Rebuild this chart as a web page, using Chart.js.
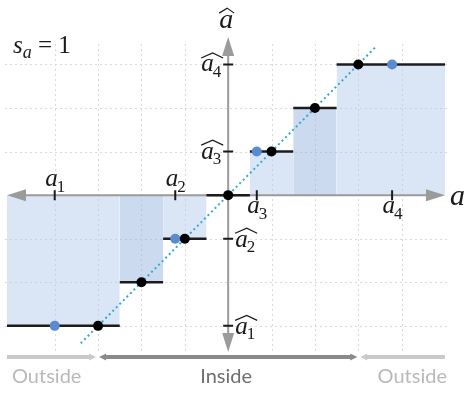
<!DOCTYPE html>
<html>
<head>
<meta charset="utf-8">
<script src="https://cdn.jsdelivr.net/npm/chart.js@4"></script>
<style>
  html, body { margin: 0; padding: 0; background: #fff; }
  #wrap { width: 467px; height: 394px; }
</style>
</head>
<body>
<div id="wrap"><canvas id="chart"></canvas></div>
<script>
// quantizer output levels and the input interval each one covers
const stepLevels = [-3, -2, -1, 0, 1, 2, 3];
const stepFrom = [-5.1, -2.5, -1.5, -0.5, 0.5, 1.5, 2.5];
const stepTo = [-2.5, -1.5, -0.5, 0.5, 1.5, 2.5, 5.0];

// sample inputs a1..a4 and the level each one snaps to
const inputValues = [-4, -1.22, 0.66, 3.78];
const inputQuantized = [-3, -1, 1, 3];
const inputNames = ["1", "2", "3", "4"];

// dotted identity line y = x
const identityX = [-3.4, 3.4];

const gridX = [-4, -3, -2, -1, 1, 2, 3, 4];
const gridY = [-3, -2, -1, 1, 2, 3];
const insideRange = [-3, 3];
const xRange = [-5.1, 5.0];
const yRange = [-3.6, 3.63];
const stepText = "1";

const AXIS = "#9b9b9b";
const MATH = '"Liberation Serif", "DejaVu Serif", serif';
const LABEL = 25;

const fillSets = stepLevels.map((lv, i) => ({
  data: [{ x: stepFrom[i], y: lv }, { x: stepTo[i], y: lv }],
  fill: "origin",
  backgroundColor: Math.abs(lv) === 2 ? "rgba(140,172,218,0.45)" : "rgba(172,198,232,0.45)",
  borderColor: "rgba(0,0,0,0)",
  borderWidth: 0,
  pointRadius: 0,
  order: 4,
}));

const stepSets = stepLevels.map((lv, i) => ({
  data: [{ x: stepFrom[i], y: lv }, { x: stepTo[i], y: lv }],
  fill: false,
  borderColor: "#1c1c1c",
  borderWidth: 2.5,
  pointRadius: 0,
  order: 3,
}));

const identitySet = {
  data: identityX.map((v) => ({ x: v, y: v })),
  fill: false,
  borderColor: "#35a9d4",
  borderWidth: 2,
  borderDash: [2, 3],
  pointRadius: 0,
  order: 2,
};

const inputSet = {
  data: inputValues.map((v, i) => ({ x: v, y: inputQuantized[i] })),
  showLine: false,
  pointRadius: 5,
  pointBackgroundColor: "#5a8ad0",
  pointBorderWidth: 0,
  order: 1,
};

const levelSet = {
  data: stepLevels.map((v) => ({ x: v, y: v })),
  showLine: false,
  pointRadius: 5,
  pointBackgroundColor: "#000",
  pointBorderWidth: 0,
  order: 0,
};

// italic "a" with upright subscript and optional wide hat
function mathSymbol(ctx, x, baseline, sub, hat, size, align) {
  const subSize = Math.round(size * 0.66);
  ctx.font = `italic ${size}px ${MATH}`;
  const wA = ctx.measureText("a").width;
  ctx.font = `${subSize}px ${MATH}`;
  const wS = sub ? ctx.measureText(sub).width : 0;
  const total = wA + wS;
  let left = x - total / 2;
  if (align === "right") left = x - total;
  if (align === "left") left = x;
  ctx.fillStyle = "#1a1a1a";
  ctx.textAlign = "left";
  ctx.textBaseline = "alphabetic";
  ctx.font = `italic ${size}px ${MATH}`;
  ctx.fillText("a", left, baseline);
  if (sub) {
    ctx.font = `${subSize}px ${MATH}`;
    ctx.fillText(sub, left + wA - 1, baseline + size * 0.22);
  }
  if (hat) {
    const top = baseline - size * 0.46 - 7;
    ctx.strokeStyle = "#1a1a1a";
    ctx.lineWidth = 1.2;
    ctx.setLineDash([]);
    ctx.beginPath();
    ctx.moveTo(left, top + 5);
    ctx.lineTo(left + total / 2 + 1, top);
    ctx.lineTo(left + total + 1, top + 5);
    ctx.stroke();
  }
}

function arrowHead(ctx, tipX, tipY, dx, dy, len, half) {
  const px = -dy, py = dx;
  ctx.beginPath();
  ctx.moveTo(tipX, tipY);
  ctx.lineTo(tipX - dx * len + px * half, tipY - dy * len + py * half);
  ctx.lineTo(tipX - dx * len - px * half, tipY - dy * len - py * half);
  ctx.closePath();
  ctx.fill();
}

const diagram = {
  id: "diagram",
  beforeDatasetsDraw(chart) {
    const { ctx, chartArea: ca, scales: { x, y } } = chart;
    ctx.save();
    ctx.strokeStyle = "#dadada";
    ctx.lineWidth = 1;
    ctx.setLineDash([2, 3]);
    gridX.forEach((v) => {
      const px = Math.round(x.getPixelForValue(v)) + 0.5;
      ctx.beginPath();
      ctx.moveTo(px, ca.top + 7);
      ctx.lineTo(px, ca.bottom + 1);
      ctx.stroke();
    });
    gridY.forEach((v) => {
      const py = Math.round(y.getPixelForValue(v)) + 0.5;
      ctx.beginPath();
      ctx.moveTo(ca.left - 2, py);
      ctx.lineTo(ca.right + 2, py);
      ctx.stroke();
    });
    ctx.restore();
  },
  afterDatasetDraw(chart, args) {
    // axes go over the shaded areas, under the steps and dots
    if (args.index !== 0) return;
    const { ctx, scales: { x, y } } = chart;
    const x0 = x.getPixelForValue(0);
    const y0 = y.getPixelForValue(0);
    const xl = x.getPixelForValue(xRange[0]);
    const xr = x.getPixelForValue(xRange[1]);
    const yt = y.getPixelForValue(yRange[1]);
    const yb = y.getPixelForValue(yRange[0]);
    ctx.save();
    ctx.setLineDash([]);
    ctx.strokeStyle = AXIS;
    ctx.fillStyle = AXIS;
    ctx.lineWidth = 2;
    ctx.beginPath();
    ctx.moveTo(xl + 10, y0);
    ctx.lineTo(xr - 10, y0);
    ctx.moveTo(x0, yt + 10);
    ctx.lineTo(x0, yb - 10);
    ctx.stroke();
    arrowHead(ctx, xl, y0, -1, 0, 19, 6);
    arrowHead(ctx, xr, y0, 1, 0, 19, 6);
    arrowHead(ctx, x0, yt, 0, -1, 19, 6);
    arrowHead(ctx, x0, yb, 0, 1, 19, 6);

    ctx.strokeStyle = "#1a1a1a";
    ctx.lineWidth = 2;
    ctx.beginPath();
    inputValues.forEach((v) => {
      const px = x.getPixelForValue(v);
      ctx.moveTo(px, y0 - 5);
      ctx.lineTo(px, y0 + 5);
    });
    inputQuantized.forEach((v) => {
      const py = y.getPixelForValue(v);
      ctx.moveTo(x0 - 5, py);
      ctx.lineTo(x0 + 5, py);
    });
    ctx.stroke();
    ctx.restore();
  },
  afterDatasetsDraw(chart) {
    const { ctx, chartArea: ca, scales: { x, y } } = chart;
    const x0 = x.getPixelForValue(0);
    const y0 = y.getPixelForValue(0);
    ctx.save();

    // input labels: negative ones above the axis, positive below
    inputValues.forEach((v, i) => {
      const px = x.getPixelForValue(v);
      if (v < 0) mathSymbol(ctx, px + 1, y0 - 9, inputNames[i], false, LABEL, "center");
      else mathSymbol(ctx, px + 1, y0 + 18, inputNames[i], false, LABEL, "center");
    });
    // quantized levels: positive left of the axis, negative right
    inputQuantized.forEach((v, i) => {
      const py = y.getPixelForValue(v);
      if (v > 0) mathSymbol(ctx, x0 - 6, py + 7, inputNames[i], true, LABEL, "right");
      else mathSymbol(ctx, x0 + 7, py + 8, inputNames[i], true, LABEL, "left");
    });
    // axis names
    mathSymbol(ctx, ca.right + 5, y0 + 10, "", false, 30, "left");
    mathSymbol(ctx, x0 - 2, 28, "", true, 28, "center");

    // step size note
    ctx.fillStyle = "#1a1a1a";
    ctx.textAlign = "left";
    ctx.font = `italic 25px ${MATH}`;
    ctx.fillText("s", 13, 53);
    const ws = ctx.measureText("s").width;
    ctx.font = `italic 18px ${MATH}`;
    ctx.fillText("a", 13 + ws, 58);
    const wa = ctx.measureText("a").width;
    ctx.font = `25px ${MATH}`;
    ctx.fillText(" = " + stepText, 13 + ws + wa, 53);

    // inside / outside ranges of the quantizer
    const by = ca.bottom + 5;
    const xl = x.getPixelForValue(xRange[0]);
    const xr = x.getPixelForValue(xRange[1]);
    const il = x.getPixelForValue(insideRange[0]);
    const ir = x.getPixelForValue(insideRange[1]);
    const light = "#c9c9c9", dark = "#8a8a8a";
    ctx.lineWidth = 4;
    ctx.setLineDash([]);
    ctx.strokeStyle = light;
    ctx.fillStyle = light;
    ctx.beginPath();
    ctx.moveTo(xl, by); ctx.lineTo(il - 8, by);
    ctx.moveTo(ir + 8, by); ctx.lineTo(xr, by);
    ctx.stroke();
    arrowHead(ctx, il - 2, by, 1, 0, 7, 3.5);
    arrowHead(ctx, ir + 2, by, -1, 0, 7, 3.5);
    ctx.strokeStyle = dark;
    ctx.fillStyle = dark;
    ctx.beginPath();
    ctx.moveTo(il + 7, by); ctx.lineTo(ir - 7, by);
    ctx.stroke();
    arrowHead(ctx, il + 1, by, -1, 0, 7, 3.5);
    arrowHead(ctx, ir - 1, by, 1, 0, 7, 3.5);

    ctx.font = '20px "Lato", "Open Sans", sans-serif';
    ctx.textBaseline = "alphabetic";
    ctx.fillStyle = "#b9b9b9";
    ctx.textAlign = "left";
    ctx.fillText("Outside", xl + 5, by + 26);
    ctx.textAlign = "right";
    ctx.fillText("Outside", xr + 2, by + 26);
    ctx.fillStyle = "#6f6f6f";
    ctx.textAlign = "center";
    ctx.fillText("Inside", x0 - 2, by + 26);
    ctx.restore();
  },
};

new Chart(document.getElementById("chart"), {
  type: "line",
  data: { datasets: [...fillSets, ...stepSets, identitySet, inputSet, levelSet] },
  options: {
    animation: false,
    responsive: true,
    maintainAspectRatio: false,
    layout: { padding: { left: 7, right: 22, top: 37, bottom: 42 } },
    scales: {
      x: { type: "linear", min: xRange[0], max: xRange[1], display: false },
      y: { type: "linear", min: yRange[0], max: yRange[1], display: false },
    },
    plugins: {
      legend: { display: false },
      tooltip: { enabled: false },
    },
    elements: { line: { tension: 0 } },
  },
  plugins: [diagram],
});
</script>
</body>
</html>
